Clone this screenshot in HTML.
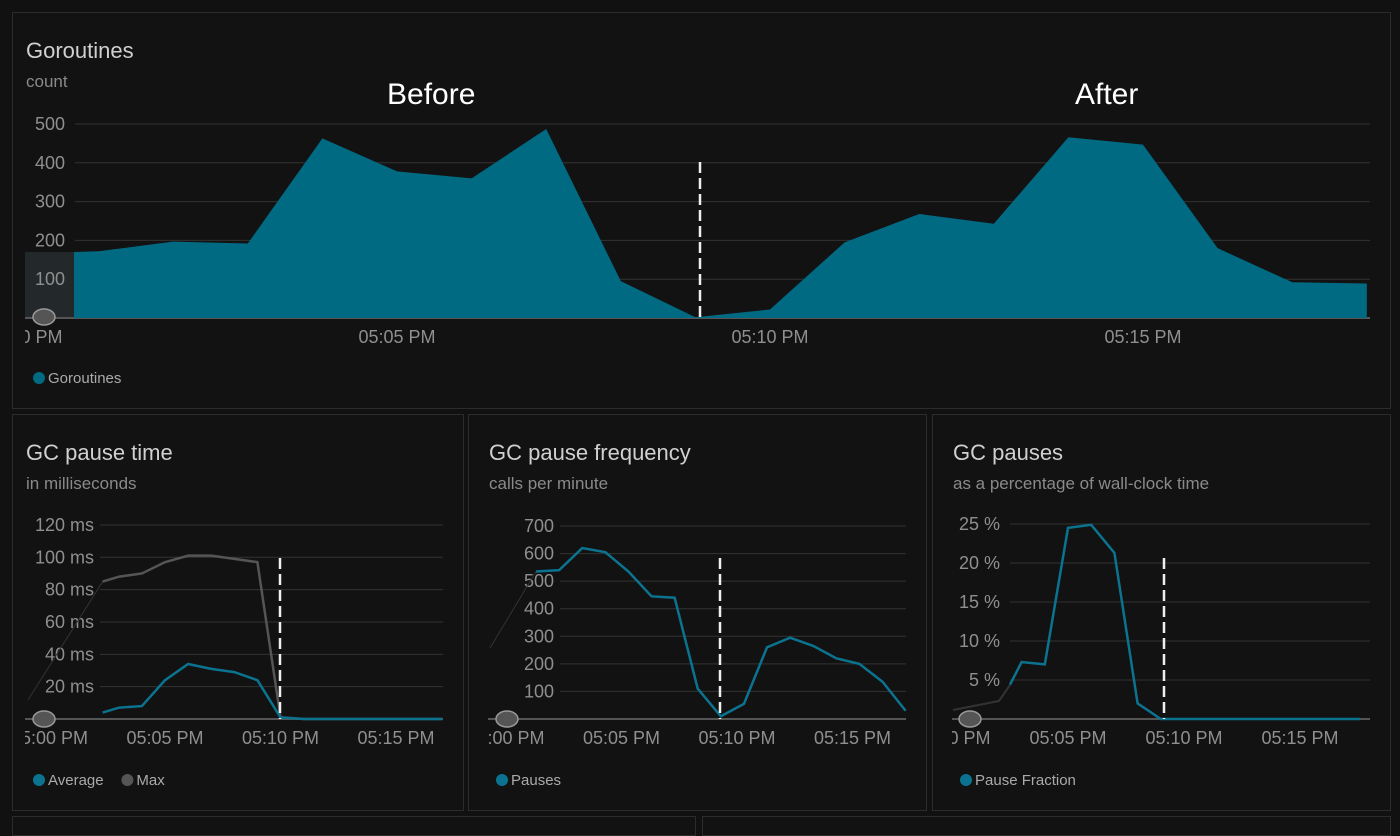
<!DOCTYPE html>
<html><head><meta charset="utf-8">
<style>
body{margin:0;background:#111;width:1400px;height:824px;overflow:hidden;font-family:"Liberation Sans","DejaVu Sans",sans-serif;}
.panel{position:absolute;border:1px solid #2c2c2c;background:#121212;box-sizing:border-box}
.t{position:absolute;color:#d0d0d0;font-size:22px}
.s{position:absolute;color:#8a8a8a;font-size:17px}
svg{position:absolute;left:0;top:0}
text{font-family:"Liberation Sans","DejaVu Sans",sans-serif}
</style></head><body>
<div class="panel" style="left:12px;top:12px;width:1379px;height:397px"></div>
<div class="panel" style="left:12px;top:414px;width:452px;height:397px"></div>
<div class="panel" style="left:468px;top:414px;width:459px;height:397px"></div>
<div class="panel" style="left:932px;top:414px;width:459px;height:397px"></div>
<div class="panel" style="left:12px;top:816px;width:684px;height:20px"></div>
<div class="panel" style="left:702px;top:816px;width:689px;height:20px"></div>
<div class="t" style="left:26px;top:38px">Goroutines</div>
<div class="s" style="left:26px;top:72px">count</div>
<div class="t" style="left:26px;top:440px">GC pause time</div>
<div class="s" style="left:26px;top:474px">in milliseconds</div>
<div class="t" style="left:489px;top:440px">GC pause frequency</div>
<div class="s" style="left:489px;top:474px">calls per minute</div>
<div class="t" style="left:953px;top:440px">GC pauses</div>
<div class="s" style="left:953px;top:474px">as a percentage of wall-clock time</div>
<div class="t" style="left:387px;top:78px;font-size:30px;color:#fff">Before</div>
<div class="t" style="left:1075px;top:78px;font-size:30px;color:#fff">After</div>
<svg id="c" width="1400" height="824"></svg>
<script>
// Goroutines
const gorMinutes=[0.67,1,2,3,4,5,6,7,8,9,10,11,12,13,14,15,16,17,18];
const gorValues=[170,172,197,192,463,378,360,487,95,2,22,195,268,243,466,447,180,92,89];
const gorTicks=[100,200,300,400,500];
// GC pause time
const ptMinutes=[2.3,3,4,5,6,7,8,9,10,11,12,13,14,15,16,17];
const ptAverage=[4,7,8,24,34,31,29,24,1,0,0,0,0,0,0,0];
const ptMax=[85,88,90,97,101,101,99,97,1,0,0,0,0,0,0,0];
const ptTicks=[20,40,60,80,100,120];
// GC frequency
const frMinutes=[1.3,2.3,3.3,4.3,5.3,6.3,7.3,8.3,9.3,10.3,11.3,12.3,13.3,14.3,15.3,16.3,17.3];
const frValues=[535,540,620,605,535,445,440,110,10,55,260,295,265,220,200,135,30];
const frTicks=[100,200,300,400,500,600,700];
// GC pauses %
const pfMinutes=[2.5,3,4,5,6,7,8,9,10,11,12,13,14,15,16,17.6];
const pfValues=[4.4,7.3,7.0,24.5,24.9,21.3,2.0,0,0,0,0,0,0,0,0,0];
const pfTicks=[5,10,15,20,25];
const xLabels=['05:00 PM','05:05 PM','05:10 PM','05:15 PM'];

const svg=document.getElementById('c');const NS='http://www.w3.org/2000/svg';
function el(tag,attrs){const e=document.createElementNS(NS,tag);for(const k in attrs)e.setAttribute(k,attrs[k]);svg.appendChild(e);return e;}
function clip(id,x,y,w,h){const c=el('clipPath',{id:id});const r=document.createElementNS(NS,'rect');r.setAttribute('x',x);r.setAttribute('y',y);r.setAttribute('width',w);r.setAttribute('height',h);c.appendChild(r);}
clip('c1',25,0,1350,824);clip('c2',25,0,420,824);clip('c3',488,0,420,824);clip('c4',952,0,420,824);
function chart(o){
  const X=m=>o.x0+m*o.ppm, Y=v=>o.y0-v*o.ppv;
  if(o.pre)o.pre(X,Y);
  o.ticks.forEach(t=>{const g=el('line',{x1:o.gx,x2:o.gx2,y1:Y(t),y2:Y(t),stroke:'#333','stroke-width':1});
    
    const tx=el('text',{x:o.lx,y:Y(t)+6,'text-anchor':'end',fill:'#8f8f8f','font-size':18});tx.textContent=t+o.unit;
    });
  const b=el('line',{x1:o.bx,x2:o.gx2,y1:o.y0,y2:o.y0,stroke:'#555','stroke-width':2});
  
  xLabels.forEach((l,i)=>{const t=el('text',{x:X(i*5),y:o.y0+25,'text-anchor':'middle',fill:'#8f8f8f','font-size':18,'clip-path':o.cp});t.textContent=l;
    });
  return {X,Y};
}
function dash(x,y1,y2){const d=el('line',{x1:x,x2:x,y1:y1,y2:y2,stroke:'#eee','stroke-width':2.5,'stroke-dasharray':'11 5'});
  }
function eye(x,y){const e=el('ellipse',{cx:x,cy:y,rx:11,ry:8,fill:'#555',stroke:'#999','stroke-width':1.5});
  }
function legend(x,y,items){let cx=x;items.forEach(([c,l])=>{const d=el('circle',{cx:cx+6,cy:y,r:6,fill:c});
  const t=el('text',{x:cx+15,y:y+5,fill:'#aaa','font-size':15});t.textContent=l;cx+=15+l.length*8.2+16;});}

// Top
let a=chart({x0:24,ppm:74.6,y0:318,ppv:0.388,ticks:gorTicks,unit:'',gx:75,gx2:1370,lx:65,bx:25,cp:'url(#c1)',
  pre:(X,Y)=>{const band=el('rect',{x:25,y:Y(gorValues[0]),width:X(gorMinutes[0])-25,height:318-Y(gorValues[0]),fill:'#23292b'});
  }});
let pts=gorMinutes.map((m,i)=>a.X(m)+','+a.Y(gorValues[i])).join(' ');
let ar=el('polygon',{points:a.X(gorMinutes[0])+','+a.Y(0)+' '+pts+' '+a.X(gorMinutes[gorMinutes.length-1])+','+a.Y(0),fill:'#006a83','clip-path':'url(#c1)'});

dash(700,162,318);eye(44,317);legend(33,378,[['#006a83','Goroutines']]);

function line(a,ms,vs,color,cp,name,w){const p=el('polyline',{points:ms.map((m,i)=>a.X(m)+','+a.Y(vs[i])).join(' '),fill:'none',stroke:color,'stroke-width':w||2.5,'clip-path':cp});
  }
// Pause time
a=chart({x0:49.5,ppm:23.1,y0:719,ppv:1.617,ticks:ptTicks,unit:' ms',gx:100,gx2:443,lx:94,bx:25,cp:'url(#c2)'});
let f=el('line',{x1:28,y1:700,x2:a.X(ptMinutes[0]),y2:a.Y(ptMax[0]),stroke:'#333','stroke-width':1});
line(a,ptMinutes,ptMax,'#555','url(#c2)','max-line');
line(a,ptMinutes,ptAverage,'#0b7390','url(#c2)','average-line');
dash(280,558,719);eye(44,719);legend(33,780,[['#0b7390','Average'],['#555','Max']]);
// Frequency
a=chart({x0:506,ppm:23.1,y0:719,ppv:0.2757,ticks:frTicks,unit:'',gx:560,gx2:906,lx:554,bx:488,cp:'url(#c3)'});
f=el('line',{x1:490,y1:648,x2:a.X(frMinutes[0]),y2:a.Y(frValues[0]),stroke:'#333','stroke-width':1});
line(a,frMinutes,frValues,'#0b7390','url(#c3)','pauses-line');
dash(720,558,719);eye(507,719);legend(496,780,[['#0b7390','Pauses']]);
// Pause fraction
a=chart({x0:952,ppm:23.2,y0:719,ppv:7.8,ticks:pfTicks,unit:' %',gx:1010,gx2:1370,lx:1000,bx:952,cp:'url(#c4)'});
f=el('polyline',{points:'953,710 999,701 1010,685',fill:'none',stroke:'#333','stroke-width':2});
line(a,pfMinutes,pfValues,'#0b7390','url(#c4)','pause-fraction-line');
dash(1164,558,719);eye(970,719);legend(960,780,[['#0b7390','Pause Fraction']]);
</script>
</body></html>
